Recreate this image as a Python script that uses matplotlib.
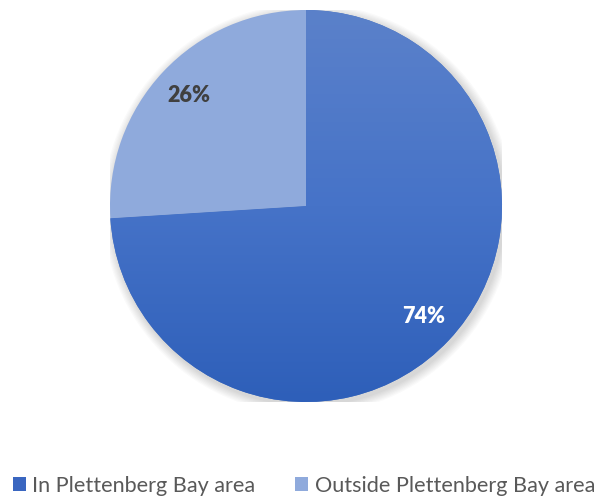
import numpy as np
import matplotlib.pyplot as plt
from matplotlib.colors import LinearSegmentedColormap
from matplotlib.patches import Circle, Patch

labels = ['In Plettenberg Bay area', 'Outside Plettenberg Bay area']
values = [74, 26]
colors = ['#4472c4', '#8faadc']

fig = plt.figure(figsize=(6.09, 4.99), dpi=100)
W, H = 609, 499
cx, cy, r = 306, 206, 196
ax = fig.add_axes([(cx - r) / W, (H - cy - r) / H, 2 * r / W, 2 * r / H])
ax.set_xlim(-1, 1)
ax.set_ylim(-1, 1)
ax.set_aspect('equal')
ax.axis('off')

# soft shadow behind the pie
for k in range(8):
    ax.add_patch(Circle((0.012, -0.015), 1.0 + 0.006 * (8 - k), color='k',
                        alpha=0.018, lw=0, zorder=0))

wedges, texts, autotexts = ax.pie(values, colors=colors, startangle=90, counterclock=False,
                                  autopct='%1.0f%%', pctdistance=0.82, radius=1.0,
                                  wedgeprops=dict(linewidth=0), frame=False)
ax.set_xlim(-1, 1)
ax.set_ylim(-1, 1)

# vertical gradient on the main slice
cmap = LinearSegmentedColormap.from_list('g', ['#2e5fb9', '#4673c8', '#5b81ca'])
grad = np.linspace(0, 1, 256).reshape(-1, 1)
img = ax.imshow(grad, cmap=cmap, extent=(-1, 1, -1, 1), origin='lower',
                aspect='auto', zorder=wedges[0].get_zorder() + 0.1)
img.set_clip_path(wedges[0])

for t, c in zip(autotexts, ['white', '#404040']):
    t.set_color(c)
    t.set_fontsize(15.5)
    t.set_fontweight('heavy')
    t.set_fontfamily('Lato')
    t.set_zorder(5)

handles = [Patch(facecolor=c, edgecolor='none') for c in ['#3a66c0', '#8faadc']]
fig.legend(handles, labels, loc='center left', bbox_to_anchor=(12.7 / W, (H - 485.5) / H), ncol=2,
           frameon=False, prop={'family': 'Lato', 'size': 15.6}, labelcolor='#595959',
           borderpad=0, borderaxespad=0,
           handlelength=0.6, handleheight=0.6, handletextpad=0.3, columnspacing=1.85)

fig.savefig('out.png', dpi=100)
